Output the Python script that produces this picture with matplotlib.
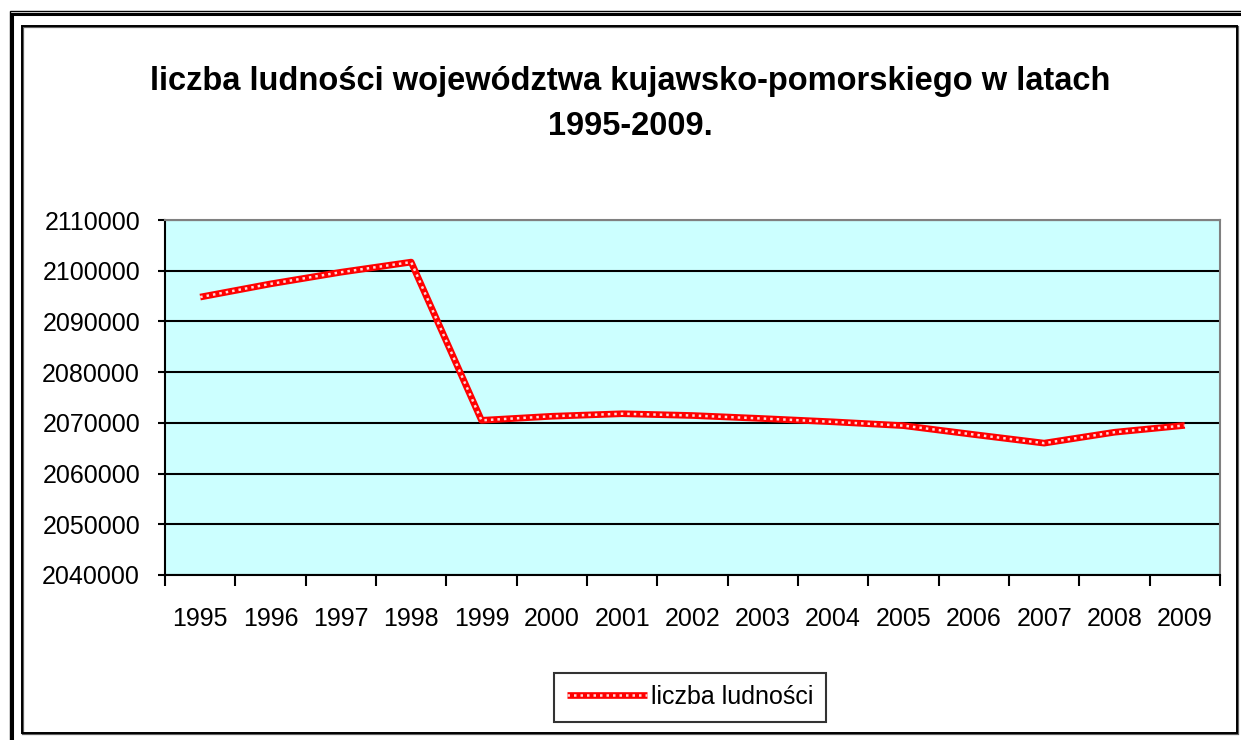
import matplotlib
matplotlib.use("Agg")
import matplotlib.pyplot as plt
from matplotlib.patches import Rectangle
from matplotlib.lines import Line2D
from matplotlib.ticker import FixedLocator, NullFormatter

plt.rcParams['font.family'] = ['Liberation Sans', 'DejaVu Sans']

# dane
years = ["1995", "1996", "1997", "1998", "1999", "2000", "2001", "2002",
         "2003", "2004", "2005", "2006", "2007", "2008", "2009"]
ludnosc = [2094800, 2097400, 2099700, 2101700, 2070500, 2071300, 2071800, 2071450,
           2070850, 2070200, 2069450, 2067700, 2066000, 2068150, 2069500]
y_ticks = [2040000, 2050000, 2060000, 2070000, 2080000, 2090000, 2100000, 2110000]
title = "liczba ludności województwa kujawsko-pomorskiego w latach\n1995-2009."
series_name = "liczba ludności"

W, H = 1241, 740
fig = plt.figure(figsize=(W / 100, H / 100), dpi=100)

# ramki wokol wykresu (wspolrzedne w pikselach)
def px_rect(x0, y0, x1, y1, lw, color="black"):
    r = Rectangle((x0 / W, 1 - y1 / H), (x1 - x0) / W, (y1 - y0) / H,
                  transform=fig.transFigure, fill=False, lw=lw, ec=color)
    fig.add_artist(r)

px_rect(10, 11, 1260, 760, 1.0)
px_rect(12, 14, 1260, 760, 2.2)
px_rect(23, 27, 1238, 734, 1.6, "#606060")
px_rect(22, 26, 1237, 733, 1.4)

ax = fig.add_axes([165 / W, 1 - 575 / H, (1220 - 165) / W, (575 - 220) / H])
ax.set_facecolor("#CCFFFF")

x = list(range(len(years)))
ax.plot(x, ludnosc, color="red", lw=4.8, solid_capstyle="butt", zorder=3)
ax.plot(x, ludnosc, color="#FFD8D8", lw=1.8, ls=(0, (1, 1.6)), zorder=4)

ax.set_xlim(-0.5, len(years) - 0.5)
ax.set_ylim(y_ticks[0], y_ticks[-1])

ax.yaxis.set_major_locator(FixedLocator(y_ticks))
ax.set_yticklabels([str(v) for v in y_ticks])
ax.yaxis.grid(True, color="black", lw=1.5)
ax.set_axisbelow(True)

ax.xaxis.set_major_locator(FixedLocator([i - 0.5 for i in range(len(years) + 1)]))
ax.xaxis.set_major_formatter(NullFormatter())
ax.xaxis.set_minor_locator(FixedLocator(x))
ax.set_xticklabels(years, minor=True)

ax.tick_params(axis="y", which="major", length=5, width=1.5, direction="out",
               labelsize=18, pad=13)
ax.tick_params(axis="x", which="major", length=8, width=1.5, direction="out")
ax.tick_params(axis="x", which="minor", length=0, labelsize=18, pad=23)

for s in ["left", "bottom"]:
    ax.spines[s].set_color("black")
    ax.spines[s].set_linewidth(1.5)
for s in ["top", "right"]:
    ax.spines[s].set_color("#808080")
    ax.spines[s].set_linewidth(1.5)

fig.text(630 / W, 1 - 104 / H, title, ha="center", va="center",
         fontsize=23.5, fontweight="bold", linespacing=1.6)

h1 = Line2D([], [], color="red", lw=4.8, solid_capstyle="butt")
h2 = Line2D([], [], color="#FFD8D8", lw=1.8, ls=(0, (1, 1.6)))
leg = fig.legend([(h1, h2)], [series_name], loc="center",
                 bbox_to_anchor=(690 / W, 1 - 697 / H), fontsize=18,
                 frameon=True, fancybox=False, shadow=False,
                 handlelength=3.2, handletextpad=0.15, borderpad=0.5,
                 borderaxespad=0)
leg.get_frame().set_edgecolor("black")
leg.get_frame().set_linewidth(1.5)

fig.savefig("out.png", dpi=100)
